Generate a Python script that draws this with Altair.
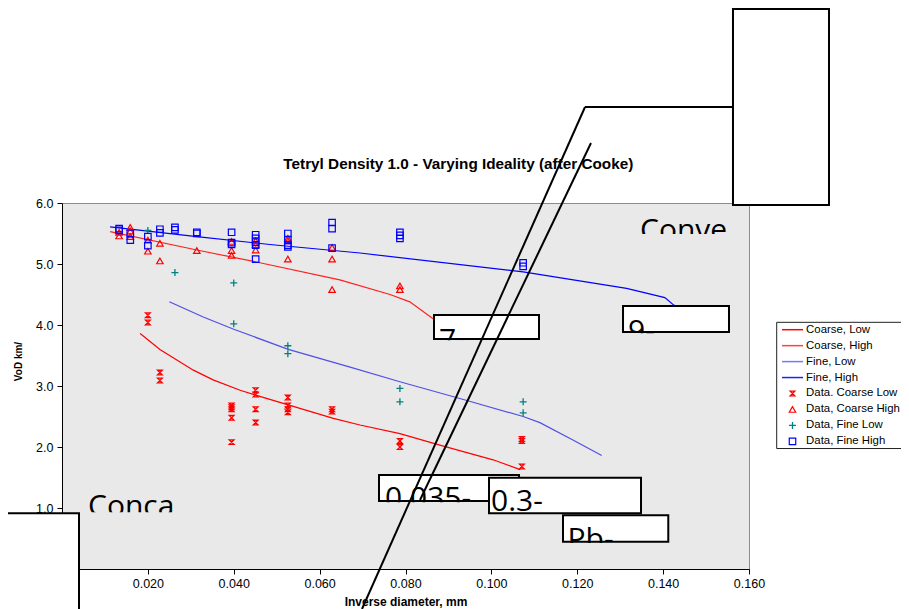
import altair as alt
import pandas as pd

# ---------------- data ----------------
# measured data: inverse diameter (1/mm) and VoD (km/s)
coarse_low_x = [0.0200, 0.0200, 0.0228, 0.0228, 0.0395, 0.0395, 0.0395, 0.0395, 0.0395,
                0.0451, 0.0451, 0.0451, 0.0451, 0.0526, 0.0526, 0.0526, 0.0526,
                0.0629, 0.0629, 0.0787, 0.0787, 0.1071, 0.1071, 0.1071]
coarse_low_y = [4.16, 4.04, 3.22, 3.09, 2.68, 2.65, 2.62, 2.48, 2.08,
                2.93, 2.86, 2.62, 2.40, 2.81, 2.68, 2.62, 2.57,
                2.62, 2.58, 2.10, 2.00, 2.13, 2.10, 1.68]

coarse_high_x = [0.0133, 0.0133, 0.0159, 0.0159, 0.0159, 0.0200, 0.0200, 0.0228, 0.0228,
                 0.0314, 0.0395, 0.0395, 0.0395, 0.0451, 0.0451, 0.0451,
                 0.0526, 0.0526, 0.0526, 0.0629, 0.0629, 0.0629, 0.0787, 0.0787]
coarse_high_y = [5.52, 5.46, 5.60, 5.54, 5.45, 5.39, 5.21, 5.34, 5.05,
                 5.22, 5.37, 5.22, 5.14, 5.38, 5.32, 5.23,
                 5.42, 5.38, 5.08, 5.27, 5.08, 4.58, 4.64, 4.58]

fine_low_x = [0.0200, 0.0263, 0.0400, 0.0400, 0.0526, 0.0526, 0.0787, 0.0787, 0.1074, 0.1074]
fine_low_y = [5.55, 4.86, 4.69, 4.02, 3.66, 3.53, 2.96, 2.74, 2.74, 2.56]

fine_high_x = [0.0133, 0.0133, 0.0159, 0.0159, 0.0200, 0.0200, 0.0228, 0.0228, 0.0263, 0.0263,
               0.0314, 0.0314, 0.0395, 0.0395, 0.0395, 0.0451, 0.0451, 0.0451, 0.0451, 0.0451,
               0.0526, 0.0526, 0.0526, 0.0526, 0.0629, 0.0629, 0.0629,
               0.0787, 0.0787, 0.0787, 0.1074, 0.1074]
fine_high_y = [5.58, 5.55, 5.50, 5.39, 5.45, 5.30, 5.57, 5.51, 5.60, 5.56,
               5.52, 5.50, 5.52, 5.35, 5.32, 5.48, 5.42, 5.36, 5.31, 5.08,
               5.50, 5.40, 5.31, 5.28, 5.68, 5.58, 5.26,
               5.52, 5.47, 5.42, 5.02, 4.96]

# model curves
curve_coarse_low_x = [0.0182, 0.0228, 0.0306, 0.0352, 0.0415, 0.0451, 0.0523, 0.0632,
                      0.0694, 0.0787, 0.0880, 0.1004, 0.1067]
curve_coarse_low_y = [3.86, 3.60, 3.26, 3.10, 2.93, 2.85, 2.70, 2.47,
                      2.36, 2.22, 2.03, 1.79, 1.63]
curve_coarse_high_x = [0.0112, 0.0314, 0.0461, 0.0647, 0.0764, 0.0810, 0.0861, 0.0892]
curve_coarse_high_y = [5.53, 5.23, 5.02, 4.74, 4.50, 4.38, 4.12, 3.97]
curve_fine_low_x = [0.0250, 0.0329, 0.0400, 0.0527, 0.0671, 0.0787, 0.0939, 0.1074,
                    0.1113, 0.1191, 0.1257]
curve_fine_low_y = [4.38, 4.13, 3.93, 3.60, 3.31, 3.07, 2.77, 2.50,
                    2.40, 2.11, 1.86]
curve_fine_high_x = [0.0112, 0.0314, 0.0484, 0.0694, 0.1074, 0.1315, 0.1404, 0.1424, 0.1451]
curve_fine_high_y = [5.61, 5.45, 5.32, 5.18, 4.87, 4.60, 4.45, 4.33, 4.20]

x_ticks = [0.0, 0.02, 0.04, 0.06, 0.08, 0.10, 0.12, 0.14, 0.16]
y_ticks = [0, 1, 2, 3, 4, 5, 6]

legend_labels = ["Coarse, Low", "Coarse, High", "Fine, Low", "Fine, High",
                 "Data. Coarse Low", "Data, Coarse High", "Data, Fine Low", "Data, Fine High"]

# broken call-out boxes of the original (data units): label, x1, x2, y1, y2
box_labels = ["7-", "9-", "0.035-", "0.3-", "Pb-"]
box_x1 = [0.08664, 0.13066, 0.07383, 0.09945, 0.11668]
box_x2 = [0.11109, 0.15534, 0.10644, 0.13485, 0.14120]
box_y1 = [4.164, 4.311, 1.541, 1.497, 0.880]
box_y2 = [3.770, 3.885, 1.115, 0.913, 0.448]

# ---------------- styling ----------------
BG = "#e9e9e9"
FONT = "Liberation Sans"
BIG = "Open Sans"

X_SCALE = alt.Scale(domain=[0, 0.16], nice=False, zero=False)
Y_SCALE = alt.Scale(domain=[0, 6], nice=False, zero=False)
X_AXIS = alt.Axis(values=x_ticks, format=".3f", title="Inverse diameter, mm", grid=False,
                  domainColor="black", tickColor="black", tickSize=5, labelFlush=False,
                  labelFont=FONT, labelFontSize=12.5, labelColor="black", labelPadding=3,
                  titleFont=FONT, titleFontSize=12, titleFontWeight="bold", titleColor="black",
                  titleY=32, titleBaseline="middle")
Y_AXIS = alt.Axis(values=y_ticks, format=".1f", title="VoD km/", grid=False,
                  domainColor="black", tickColor="black", tickSize=5, labelFlush=False,
                  labelFont=FONT, labelFontSize=12.5, labelColor="black", labelPadding=4,
                  titleFont=FONT, titleFontSize=10, titleFontWeight="bold", titleColor="black",
                  titleX=-44, titleY=158, titleBaseline="middle")


def X(f="x"):
    return alt.X(f + ":Q", scale=X_SCALE, axis=X_AXIS)


def Y(f="y"):
    return alt.Y(f + ":Q", scale=Y_SCALE, axis=Y_AXIS)


layers = []

# curves
for cx, cy, col in [(curve_coarse_low_x, curve_coarse_low_y, "#ff0000"),
                    (curve_coarse_high_x, curve_coarse_high_y, "#ff2020"),
                    (curve_fine_low_x, curve_fine_low_y, "#5050e6"),
                    (curve_fine_high_x, curve_fine_high_y, "#0000ff")]:
    df = pd.DataFrame({"x": cx, "y": cy, "o": list(range(len(cx)))})
    layers.append(alt.Chart(df).mark_line(color=col, strokeWidth=1.2, clip=False)
                  .encode(x=X(), y=Y(), order="o:Q"))

HOURGLASS = "M-1,-1L1,-1L-1,1L1,1Z"
PLUS = "M-1,0L1,0M0,-1L0,1"
series_style = [
    (coarse_low_x, coarse_low_y, HOURGLASS, "#ff0000", 22, 1.3),
    (coarse_high_x, coarse_high_y, "triangle-up", "#ff0000", 42, 1.2),
    (fine_low_x, fine_low_y, PLUS, "#008080", 49, 1.3),
    (fine_high_x, fine_high_y, "square", "#0000ff", 42, 1.2),
]
for sx, sy, shp, col, size, sw in series_style:
    df = pd.DataFrame({"x": sx, "y": sy})
    layers.append(alt.Chart(df).mark_point(shape=shp, filled=False, color=col, size=size,
                                           strokeWidth=sw, opacity=1, clip=False)
                  .encode(x=X(), y=Y()))

# title (placed as text to keep it off-centre like the original)
layers.append(alt.Chart(pd.DataFrame({"x": [0.0923], "y": [6.56],
                                      "t": ["Tetryl Density 1.0 - Varying Ideality (after Cooke)"]}))
              .mark_text(font=FONT, fontSize=15.3, fontWeight="bold", color="black",
                         align="center", baseline="alphabetic", clip=False)
              .encode(x=X(), y=Y(), text="t:N"))


def rect(x1, x2, y1, y2, fill="white", stroke="black", sw=2):
    df = pd.DataFrame({"x": [x1], "x2": [x2], "y": [y1], "y2": [y2]})
    kw = dict(fill=fill, clip=False, opacity=1)
    if stroke:
        kw.update(stroke=stroke, strokeWidth=sw)
    else:
        kw.update(strokeWidth=0)
    return alt.Chart(df).mark_rect(**kw).encode(x=X(), x2="x2:Q", y=Y(), y2="y2:Q")


def big_text(x, y, t):
    df = pd.DataFrame({"x": [x], "y": [y], "t": [t]})
    return (alt.Chart(df).mark_text(font=BIG, fontSize=30, color="black", align="left",
                                    baseline="alphabetic", clip=False)
            .encode(x=X(), y=Y(), text="t:N"))


# top right empty box
layers.append(rect(0.15627, 0.17863, 9.18, 5.967))
# free-floating clipped texts
layers.append(big_text(0.13462, 5.393, "Conve"))
layers.append(rect(0.1335, 0.1562, 5.49, 5.25, fill=BG, stroke=None))
layers.append(big_text(0.00606, 0.869, "Conca"))
layers.append(rect(0.0053, 0.0280, 0.930, 0.760, fill=BG, stroke=None))

text_x = [0.08780, 0.13183, 0.07523, 0.09991, 0.11773]
text_y = [3.590, 3.738, 1.008, 0.951, 0.328]
for i, lab in enumerate(box_labels):
    layers.append(rect(box_x1[i], box_x2[i], box_y1[i], box_y2[i]))
    layers.append(big_text(text_x[i], text_y[i], lab))
    if lab != "0.3-":
        layers.append(rect(box_x1[i] - 0.0002, box_x2[i] + 0.0002,
                           box_y2[i] - 0.022, box_y2[i] - 0.25, fill=BG, stroke=None))

# lower-left box
layers.append(rect(-0.0160, 0.00396, 0.913, -0.80))

# leader lines
lines_df = pd.DataFrame({
    "x": [0.12181, 0.12320, 0.12181],
    "x2": [0.06987, 0.08338, 0.15627],
    "y": [7.574, 6.984, 7.574],
    "y2": [-0.656, 1.131, 7.574],
})
layers.append(alt.Chart(lines_df).mark_rule(color="black", strokeWidth=2, clip=False)
              .encode(x=X(), x2="x2:Q", y=Y(), y2="y2:Q"))

# ---------------- legend (drawn by hand) ----------------
LEG_TOP = 3.923
LEG_STEP = 15.95 / 61
leg_y = [LEG_TOP - i * LEG_STEP for i in range(8)]
layers.append(rect(0.16645, 0.2100, 4.044, 1.975, fill="white", stroke="#222222", sw=1))
leg_line_colors = ["#ff0000", "#ff4040", "#7878ff", "#2020ff"]
leg_lines = pd.DataFrame({"x": [0.16769] * 4, "x2": [0.17258] * 4, "y": leg_y[:4],
                          "c": leg_line_colors})
layers.append(alt.Chart(leg_lines).mark_rule(strokeWidth=1.5, clip=False)
              .encode(x=X(), x2="x2:Q", y=Y(), color=alt.Color("c:N", scale=None)))
for i, (sx, sy, shp, col, size, sw) in enumerate(series_style):
    df = pd.DataFrame({"x": [0.17013], "y": [leg_y[4 + i]]})
    layers.append(alt.Chart(df).mark_point(shape=shp, filled=False, color=col, size=size,
                                           strokeWidth=sw, opacity=1, clip=False)
                  .encode(x=X(), y=Y()))
leg_text = pd.DataFrame({"x": [0.17330] * 8, "y": leg_y, "t": legend_labels})
layers.append(alt.Chart(leg_text).mark_text(font=FONT, fontSize=11.4, color="black",
                                            align="left", baseline="middle", clip=False)
              .encode(x=X(), y=Y(), text="t:N"))

chart = (alt.layer(*layers)
         .properties(width=687, height=366,
                     autosize=alt.AutoSizeParams(type="none"),
                     padding={"left": 54, "top": 195, "right": 152, "bottom": 40})
         .configure_view(fill=BG, stroke="#8c8c8c", strokeWidth=1))

chart.save("out.html", embed_options={"renderer": "svg", "actions": False})
